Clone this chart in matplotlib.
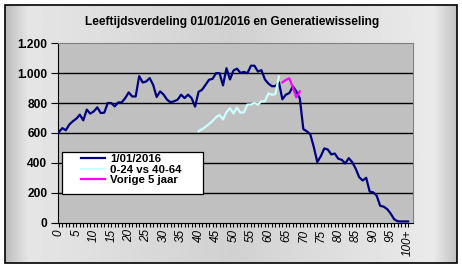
import numpy as np
import matplotlib
matplotlib.use("Agg")
import matplotlib.pyplot as plt
from matplotlib.patches import Rectangle

# data
ages = list(range(0, 101))
pop_2016 = [605, 632, 618, 656, 678, 695, 722, 684, 756, 729,
            744, 771, 733, 735, 800, 800, 778, 804, 804, 833,
            871, 844, 844, 980, 938, 944, 967, 922, 840, 878,
            856, 822, 805, 812, 822, 856, 833, 856, 833, 776,
            875, 889, 922, 956, 962, 1000, 1000, 918, 1033, 958,
            1018, 1030, 1002, 1008, 1000, 1050, 1050, 1011, 1020, 958,
            930, 913, 913, 940, 825, 856, 867, 911, 878, 830,
            625, 611, 590, 505, 405, 444, 496, 489, 456, 462,
            427, 420, 395, 431, 404, 360, 303, 281, 299, 207,
            202, 180, 112, 106, 90, 60, 22, 8, 7, 7, 7]
cmp_ages = list(range(40, 64))
cmp_vals = [612, 625, 640, 660, 680, 705, 720, 690, 740, 765,
            730, 770, 735, 738, 790, 790, 800, 790, 812, 812,
            865, 855, 860, 978]
prev_ages = list(range(64, 70))
prev_vals = [938, 955, 965, 905, 838, 878]

labels = ["1/01/2016", "0-24 vs 40-64", "Vorige 5 jaar"]
title = "Leeftijdsverdeling 01/01/2016 en Generatiewisseling"
ytick_vals = [0, 200, 400, 600, 800, 1000, 1200]
ytick_txt = ["0", "200", "400", "600", "800", "1.000", "1.200"]

W, H = 462, 269
fig = plt.figure(figsize=(W / 100, H / 100), dpi=100)
fig.patch.set_facecolor("white")

# chart area: grey gradient with black frame
bg = fig.add_axes([0, 0, 1, 1], zorder=-10)
bg.axis("off")
bg.set_xlim(0, W)
bg.set_ylim(H, 0)
xs = np.linspace(0, 1, 300)
prof = np.interp(xs, [0, 0.05, 0.5, 0.95, 1], [0.74, 0.9, 0.82, 0.92, 0.76])
bg.imshow(np.tile(prof, (10, 1)), extent=[5, 457, 263, 5], aspect="auto",
          cmap="gray", vmin=0, vmax=1, interpolation="bilinear")
bg.add_patch(Rectangle((5, 5), 452, 258, fill=False, ec="black", lw=1.2))

ax = fig.add_axes([58.5 / W, 1 - 222.5 / H, (413 - 58.5) / W, (222.5 - 43.3) / H])
ax.set_facecolor("#c0c0c0")
ax.plot(ages, pop_2016, color="#000080", lw=1.6, label=labels[0], zorder=3)
ax.plot(cmp_ages, cmp_vals, color="#ccffff", lw=1.6, label=labels[1], zorder=3)
ax.plot(prev_ages, prev_vals, color="#ff00ff", lw=1.6, label=labels[2], zorder=3)

ax.set_xlim(-0.1, 101.4)
ax.set_ylim(0, 1200)
ax.set_yticks(ytick_vals)
ax.set_yticklabels(ytick_txt, fontsize=8.6, fontweight="bold", family="Liberation Sans")
for v in ytick_vals[1:-1]:
    ax.axhline(v, color="black", lw=1, zorder=1)
ax.set_xticks(ages)
ax.set_xticklabels([str(a) if a % 5 == 0 and a < 100 else ("100+" if a == 100 else "") for a in ages],
                   rotation=90, fontsize=8.5, style="italic", family="Liberation Sans")
ax.tick_params(axis="x", length=3, width=0.8, pad=2)
ax.tick_params(axis="y", length=5, width=0.8, pad=3)
for s in ["top", "right"]:
    ax.spines[s].set_color("#808080")
for s in ["left", "bottom"]:
    ax.spines[s].set_color("black")

fig.text(232 / W, 1 - 22 / H, title, ha="center", va="center",
         fontsize=8.6, fontweight="bold", family="Liberation Sans")

# legend box (white, black edge) with entries inside
ax.add_patch(Rectangle((62 / W, 1 - 194 / H), 141 / W, 42 / H, transform=fig.transFigure,
                       facecolor="white", edgecolor="black", lw=0.9, zorder=4, clip_on=False))
leg = ax.legend(loc="upper left", bbox_to_anchor=(80 / W, 1 - 152.5 / H),
                bbox_transform=fig.transFigure, frameon=False,
                prop={"family": "Liberation Sans", "weight": "bold", "size": 8.2},
                handlelength=2.1, handletextpad=0.45, labelspacing=0.08,
                borderpad=0.1, borderaxespad=0)
leg.set_zorder(5)

fig.savefig("out.png", dpi=100)
